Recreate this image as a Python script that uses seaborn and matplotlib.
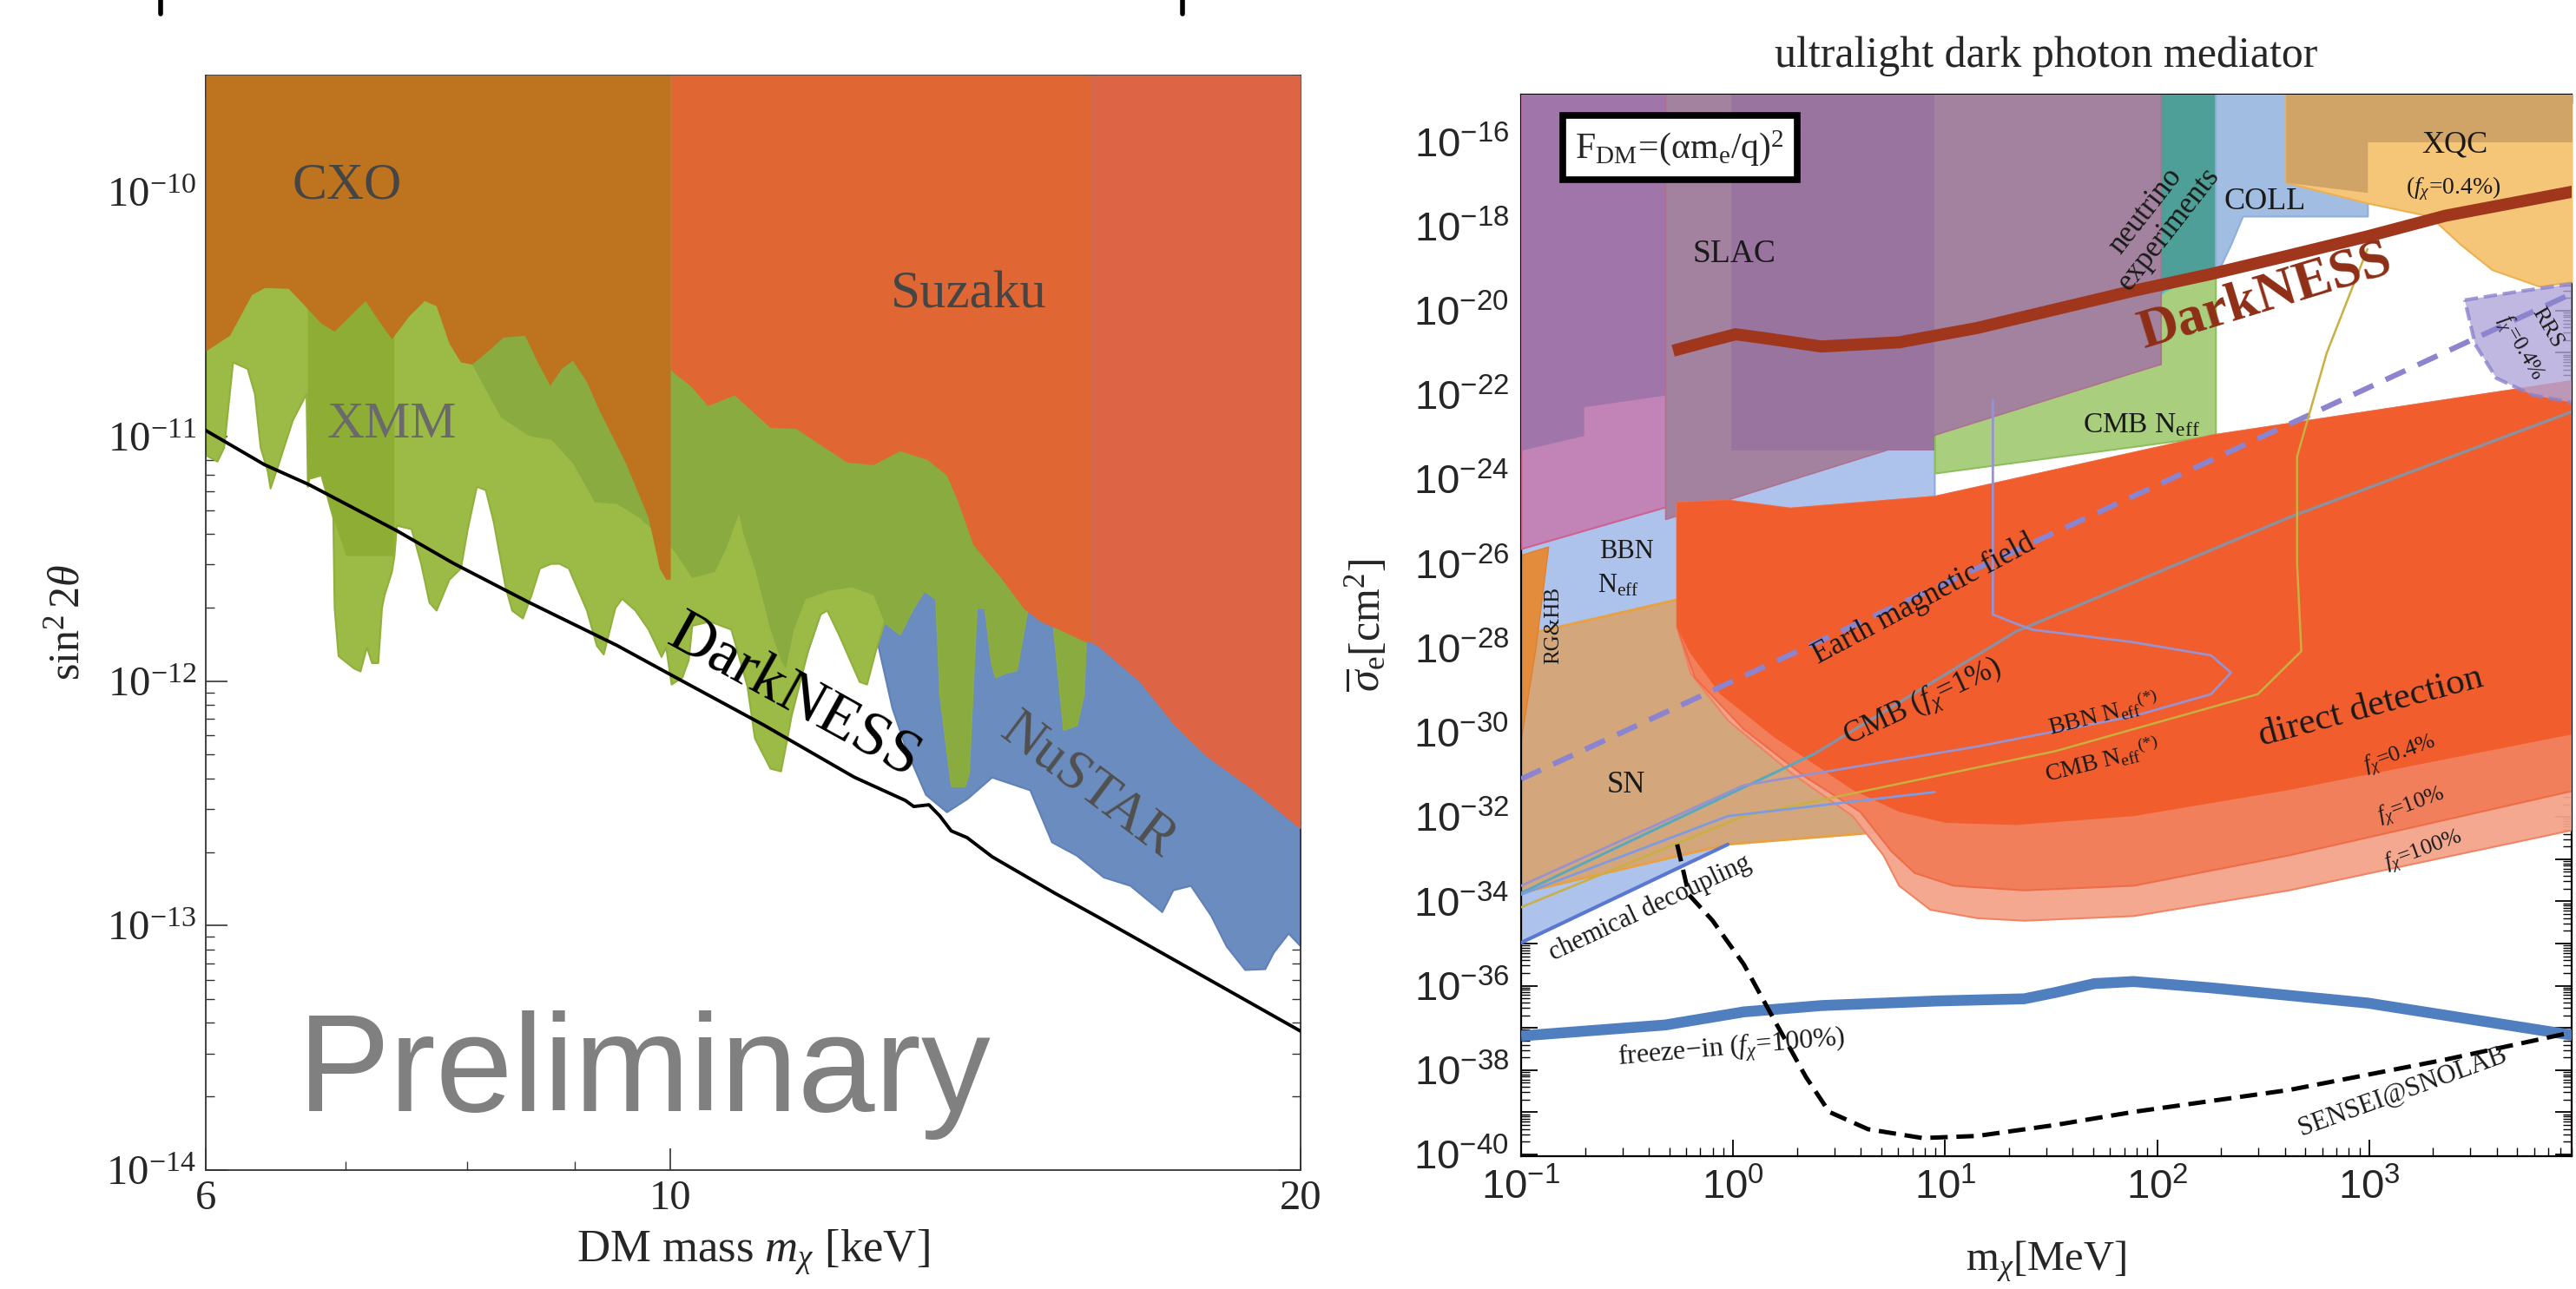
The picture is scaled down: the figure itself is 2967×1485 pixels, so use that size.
import numpy as np
import matplotlib
matplotlib.use("Agg")
import matplotlib.pyplot as plt
import seaborn as sns
from matplotlib.ticker import FixedLocator, FuncFormatter, NullFormatter
from matplotlib.lines import Line2D

# ======================= LEFT PANEL DATA (keV, sin^2 2theta) =======================
cxo_mass = [6.00, 6.16, 6.31, 6.40, 6.57, 6.68, 6.81, 6.91, 7.06, 7.15, 7.25, 7.36, 7.50, 7.63, 7.73,
            7.84, 7.94, 8.04, 8.16, 8.32, 8.52, 8.64, 8.76, 8.87, 8.98, 9.12, 9.24, 9.52, 9.76, 9.88, 9.95, 10.0]
cxo_lower = [2.24e-11, 2.60e-11, 3.81e-11, 4.07e-11, 4.04e-11, 3.48e-11, 2.91e-11, 2.70e-11, 3.24e-11, 3.60e-11,
             3.01e-11, 2.51e-11, 3.11e-11, 3.60e-11, 3.43e-11, 2.41e-11, 2.02e-11, 1.98e-11, 2.20e-11, 2.55e-11,
             2.60e-11, 2.02e-11, 1.62e-11, 1.90e-11, 2.05e-11, 1.68e-11, 1.30e-11, 7.81e-12, 4.67e-12, 2.90e-12,
             2.61e-12, 2.61e-12]

suzaku_mass = [10.0, 10.05, 10.22, 10.42, 10.73, 11.16, 11.48, 12.14, 12.50, 12.87, 13.26, 13.55, 13.72, 13.95,
               14.19, 14.36, 14.75, 15.03, 15.33, 15.78, 15.90]
suzaku_lower = [1.89e-11, 1.81e-11, 1.62e-11, 1.34e-11, 1.48e-11, 1.09e-11, 1.08e-11, 7.87e-12, 7.68e-12, 8.75e-12,
                8.07e-12, 6.97e-12, 5.41e-12, 3.62e-12, 3.03e-12, 2.70e-12, 1.98e-12, 1.75e-12, 1.63e-12, 1.45e-12,
                1.44e-12]

suzaku_hi_mass = [15.90, 16.02, 16.75, 17.40, 18.01, 18.97, 20.0]
suzaku_hi_lower = [1.44e-12, 1.38e-12, 9.96e-13, 6.62e-13, 4.97e-13, 3.59e-13, 2.48e-13]

xmm_mass = [6.00, 6.075, 6.12, 6.18, 6.28, 6.33, 6.37, 6.42, 6.44, 6.49, 6.60, 6.70, 6.71, 6.72, 6.81, 6.90,
            6.91, 6.94, 7.06, 7.11, 7.16, 7.20, 7.25, 7.28, 7.30, 7.36, 7.38, 7.40, 7.52, 7.60, 7.67, 7.73,
            7.84, 7.94, 8.00, 8.08, 8.16, 8.23, 8.34, 8.40, 8.50, 8.58, 8.66, 8.77, 8.85, 8.94, 9.12, 9.22,
            9.29, 9.41, 9.48, 9.62, 9.76, 9.90, 9.95, 10.01, 10.13, 10.20, 10.24, 10.44, 10.69, 10.88, 10.97,
            11.16, 11.29, 11.37, 11.42, 11.63, 11.79, 11.88, 12.03, 12.31, 12.41, 12.53, 12.65, 12.87, 13.06,
            13.22, 13.39, 13.45, 13.62, 13.82, 13.88, 14.00, 14.13, 14.24, 14.30, 14.43, 14.63, 14.81, 15.23,
            15.41, 15.63, 15.75, 15.81]
xmm_lower = [8.41e-12, 7.94e-12, 9.05e-12, 2.02e-11, 1.90e-11, 1.50e-11, 9.05e-12, 7.26e-12, 6.16e-12, 7.50e-12,
             1.17e-11, 1.50e-11, 6.26e-12, 6.74e-12, 6.97e-12, 4.67e-12, 2.00e-12, 1.27e-12, 1.13e-12, 1.10e-12,
             1.38e-12, 1.19e-12, 1.19e-12, 2.00e-12, 2.25e-12, 2.81e-12, 3.26e-12, 4.34e-12, 4.20e-12, 3.03e-12,
             2.10e-12, 1.95e-12, 2.61e-12, 2.90e-12, 4.20e-12, 6.26e-12, 6.06e-12, 4.52e-12, 2.43e-12, 1.95e-12,
             1.81e-12, 2.25e-12, 2.90e-12, 3.03e-12, 3.03e-12, 2.90e-12, 1.95e-12, 1.40e-12, 1.29e-12, 2.00e-12,
             2.18e-12, 1.95e-12, 1.63e-12, 1.26e-12, 1.38e-12, 9.72e-13, 1.04e-12, 1.22e-12, 1.69e-12, 1.76e-12,
             1.63e-12, 9.56e-13, 5.85e-13, 4.40e-13, 4.29e-13, 5.85e-13, 7.18e-13, 1.33e-12, 1.88e-12, 1.95e-12,
             1.56e-12, 9.96e-13, 9.72e-13, 1.33e-12, 1.75e-12, 1.56e-12, 2.00e-12, 2.35e-12, 2.17e-12, 8.81e-13,
             3.73e-13, 3.73e-13, 4.22e-13, 2.00e-12, 2.00e-12, 1.17e-12, 1.04e-12, 1.08e-12, 1.11e-12, 2.00e-12,
             1.76e-12, 6.35e-13, 6.62e-13, 8.81e-13, 2.00e-12]

xmm_band_mass = [6.71, 6.72, 6.81, 6.90, 7.00, 7.38]
xmm_band_lower = [6.26e-12, 6.74e-12, 6.97e-12, 4.67e-12, 3.26e-12, 3.26e-12]

xmm2_mass = [8.04, 8.16, 8.30, 8.56, 8.77, 8.98, 9.20, 9.43, 9.66, 9.95, 10.05, 10.24, 10.50, 10.63, 10.78,
             10.83, 10.97, 11.16, 11.29, 11.35, 11.45, 11.60, 11.90, 12.20, 12.50, 12.65, 12.87, 13.06, 13.22,
             13.39, 13.45, 13.62, 13.82, 13.88, 14.00, 14.13, 14.24, 14.30, 14.43, 14.63, 14.81, 15.23, 15.41,
             15.63, 15.75, 15.81]
xmm2_lower = [1.98e-11, 1.56e-11, 1.20e-11, 1.01e-11, 9.74e-12, 7.81e-12, 5.41e-12, 5.32e-12, 4.67e-12, 3.74e-12,
              3.37e-12, 2.65e-12, 2.81e-12, 3.51e-12, 4.86e-12, 4.03e-12, 2.90e-12, 1.63e-12, 1.22e-12, 1.13e-12,
              1.63e-12, 2.17e-12, 2.35e-12, 2.43e-12, 2.25e-12, 1.75e-12, 1.56e-12, 2.00e-12, 2.35e-12, 2.17e-12,
              8.81e-13, 3.73e-13, 3.73e-13, 4.22e-13, 2.00e-12, 2.00e-12, 1.17e-12, 1.04e-12, 1.08e-12, 1.11e-12,
              2.00e-12, 1.76e-12, 6.35e-13, 6.62e-13, 8.81e-13, 2.00e-12]

nustar_mass = [11.55, 11.63, 11.79, 11.88, 12.41, 12.57, 12.76, 12.97, 13.24, 13.55, 13.86, 14.24, 14.85, 15.21,
               15.63, 16.10, 16.58, 17.17, 17.38, 17.72, 18.12, 18.43, 18.81, 19.23, 19.41, 19.73, 20.0]
nustar_lower = [1.10e-12, 1.33e-12, 1.88e-12, 2.00e-12, 2.00e-12, 1.38e-12, 7.79e-13, 5.18e-13, 3.44e-13, 2.92e-13,
                3.31e-13, 4.05e-13, 3.59e-13, 2.20e-13, 1.94e-13, 1.58e-13, 1.46e-13, 1.14e-13, 1.40e-13, 1.46e-13,
                1.10e-13, 8.24e-14, 6.61e-14, 6.66e-14, 7.78e-14, 9.31e-14, 8.24e-14]

darkness_mass = [6.00, 6.40, 6.72, 7.40, 7.88, 8.56, 9.43, 10.05, 11.08, 12.24, 12.95, 13.07, 13.29, 13.45,
                 13.62, 13.86, 14.25, 15.28, 16.02, 16.86, 20.0]
darkness_sin2 = [1.06e-11, 7.68e-12, 6.37e-12, 4.13e-12, 3.03e-12, 2.10e-12, 1.40e-12, 1.04e-12, 6.62e-13,
                 4.05e-13, 3.25e-13, 3.07e-13, 3.12e-13, 2.81e-13, 2.44e-13, 2.29e-13, 1.91e-13, 1.35e-13,
                 1.08e-13, 8.44e-14, 3.70e-14]

left_xticks = [6, 10, 20]
left_xminor = [7, 8, 9]

# ======================= RIGHT PANEL DATA (log10 MeV, log10 cm^2) =======================
pink_logm = [-1.0, 2.016]
pink_logs = [-25.64, -21.26]
purple_logm = [-1.0, -0.705, -0.705, -0.32]
purple_logs = [-23.31, -22.96, -22.28, -22.0]
slac_logm = [-0.32, 2.016]
slac_logs = [-24.94, -21.26]
slacdark_logm = [-0.008, 0.951]
slacdark_logs = [-23.31, -23.31]
nu_logm = [1.225, 1.41, 1.704, 1.889, 2.035, 2.293]
nu_logs = [-22.13, -21.99, -20.80, -20.12, -19.53, -18.93]
coll_logm = [2.275, 2.35, 2.403, 2.992]
coll_logs = [-19.2, -18.4, -17.76, -17.76]
xqc_logm = [2.607, 2.992, 3.286, 3.433, 3.58, 3.801, 3.98]
xqc_logs = [-16.96, -17.45, -17.76, -18.44, -19.03, -19.42, -19.3]
xqc100_logm = [2.607, 2.992, 2.992, 3.98]
xqc100_logs = [-16.96, -17.2, -16.0, -16.0]
cmb_logm = [0.951, 2.275]
cmb_logs = [-23.85, -22.96]
bbn_logm = [-1.0, 0.951, 0.951, 0.3, -0.025, -1.0]
bbn_logs = [-25.6, -22.9, -24.6, -28.0, -32.65, -34.98]
sn_logm = [-1.0, -0.264, 0.7, 0.7, 0.6, -0.025, -1.0]
sn_logs = [-27.7, -26.85, -26.0, -32.35, -32.4, -32.65, -33.8]
rghb_logm = [-1.0, -0.87, -0.93, -1.0]
rghb_logs = [-25.8, -25.6, -28.0, -30.2]
dd_top_logm = [-0.264, -0.025, 0.27, 0.951, 2.256, 3.98]
dd_top_logs = [-24.55, -24.50, -24.69, -24.41, -22.96, -21.65]
dd100_logm = [-0.264, -0.2, -0.025, 0.27, 0.564, 0.709, 0.783, 0.93, 1.152, 1.373, 1.889, 2.623, 3.98]
dd100_logs = [-27.5, -28.6, -29.71, -30.94, -31.98, -32.91, -33.63, -34.2, -34.40, -34.46, -34.35, -33.74, -32.29]
dd10_logm = [-0.264, -0.18, 0.05, 0.34, 0.6, 0.746, 0.857, 1.04, 1.373, 1.889, 2.623, 3.98]
dd10_logs = [-27.5, -28.7, -29.92, -31.05, -31.88, -32.81, -33.33, -33.63, -33.74, -33.63, -32.91, -31.36]
dd04_logm = [-0.264, -0.209, -0.061, 0.196, 0.564, 0.783, 1.004, 1.336, 1.889, 2.623, 3.98]
dd04_logs = [-27.5, -28.07, -29.09, -30.12, -31.36, -31.88, -32.14, -32.19, -31.98, -31.36, -30.02]
rrs_logm = [3.451, 3.7, 3.98, 3.98, 3.77, 3.6, 3.5]
rrs_logs = [-19.75, -19.55, -19.35, -22.2, -22.0, -21.6, -20.8]

earth_logm = [-1.0, 3.955]
earth_logs = [-31.1, -19.6]
cmb1_cyan_logm = [-1.0, 0.385]
cmb1_cyan_logs = [-33.8, -30.5]
cmb1_gray_logm = [0.385, 1.336, 2.623, 3.98]
cmb1_gray_logs = [-30.5, -27.6, -24.9, -22.35]
cmbstar_logm = [2.992, 2.8, 2.66, 2.66, 2.68, 2.475, 1.52, 0.05, -1.0]
cmbstar_logs = [-18.54, -21.0, -23.46, -26.0, -28.07, -29.09, -30.44, -31.98, -34.14]
bbnstar_logm = [1.225, 1.225, 1.299, 1.41, 1.889, 2.254, 2.348, 2.254, 1.889, 1.152, 0.05, -1.0]
bbnstar_logs = [-22.13, -27.2, -27.35, -27.56, -27.86, -28.17, -28.58, -29.09, -29.61, -30.33, -31.25, -33.63]
blue2_logm = [0.951, -0.025, -1.0]
blue2_logs = [-31.41, -31.98, -33.84]
chem_logm = [-1.0, -0.025]
chem_logs = [-34.98, -32.65]
freeze_logm = [-1.0, -0.32, 0.05, 0.417, 0.967, 1.373, 1.52, 1.704, 1.889, 2.254, 2.992, 3.98]
freeze_logs = [-37.19, -36.93, -36.62, -36.47, -36.36, -36.31, -36.16, -35.95, -35.90, -36.05, -36.41, -37.19]
sensei_logm = [-0.264, -0.209, -0.098, 0.05, 0.196, 0.343, 0.453, 0.636, 0.893, 1.152, 1.52, 1.889, 2.623, 3.36, 3.98]
sensei_logs = [-32.65, -33.84, -34.45, -35.49, -36.83, -38.16, -38.99, -39.40, -39.61, -39.56, -39.30, -38.99,
               -38.47, -37.75, -37.08]
dkr_logm = [-0.283, -0.135, 0.012, 0.159, 0.416, 0.784, 1.152, 1.52, 1.888, 2.256, 2.624, 2.992, 3.36, 3.98]
dkr_logs = [-20.95, -20.75, -20.56, -20.66, -20.85, -20.75, -20.41, -19.97, -19.53, -19.13, -18.69, -18.24,
            -17.75, -17.16]

right_xticks_exp = [-1, 0, 1, 2, 3]
right_yticks_exp = list(range(-40, -14))

# ======================= STYLE =======================
sns.set_theme(style="ticks")
plt.rcParams["font.family"] = ["Liberation Serif", "DejaVu Serif"]
plt.rcParams["mathtext.fontset"] = "custom"
plt.rcParams["mathtext.rm"] = "Liberation Serif"
plt.rcParams["mathtext.it"] = "Liberation Serif:italic"
plt.rcParams["mathtext.bf"] = "Liberation Serif:bold"
plt.rcParams["mathtext.sf"] = "Liberation Sans"

fig = plt.figure(figsize=(29.67, 14.85), dpi=100)
fig.patch.set_facecolor("white")
axL = fig.add_axes([237 / 2967, 1 - 1348 / 1485, (1498 - 237) / 2967, (1348 - 87) / 1485])
axR = fig.add_axes([1752 / 2967, 1 - 1332 / 1485, (2962 - 1752) / 2967, (1332 - 109) / 1485])

# ======================= LEFT PANEL =======================
axL.set_xscale("log")
axL.set_yscale("log")
TOPL = 1e-9
axL.fill_between(nustar_mass, nustar_lower, TOPL, facecolor="#6B8CBE", edgecolor="#5F80B8", lw=1.5, zorder=1)
axL.fill_between(xmm_mass, xmm_lower, TOPL, facecolor="#9CBB46", edgecolor="#90B03C", lw=1.5, zorder=2)
axL.fill_between(xmm_band_mass, xmm_band_lower, TOPL, facecolor="#8DAD35", lw=0, zorder=3)
axL.fill_between(xmm2_mass, xmm2_lower, TOPL, facecolor="#8AAB40", lw=0, zorder=3)
axL.fill_between(cxo_mass, cxo_lower, TOPL, facecolor="#BE731F", lw=0, zorder=4)
axL.fill_between(suzaku_mass, suzaku_lower, TOPL, facecolor="#E06733", lw=0, zorder=4)
axL.fill_between(suzaku_hi_mass, suzaku_hi_lower, TOPL, facecolor="#DD6546", lw=0, zorder=4)
sns.lineplot(x=darkness_mass, y=darkness_sin2, ax=axL, color="black", lw=2.8, sort=False,
             estimator=None, zorder=6)
axL.set_xlim(6, 20)
axL.set_ylim(1e-14, 3e-10)

axL.xaxis.set_major_locator(FixedLocator(left_xticks))
axL.xaxis.set_minor_locator(FixedLocator(left_xminor))
axL.xaxis.set_major_formatter(FuncFormatter(lambda v, p: "%d" % round(v)))
axL.xaxis.set_minor_formatter(NullFormatter())
axL.yaxis.set_major_locator(FixedLocator([1e-14, 1e-13, 1e-12, 1e-11, 1e-10]))
axL.yaxis.set_minor_locator(FixedLocator([m * 10.0 ** e for e in range(-14, -9) for m in range(2, 10)]))
axL.yaxis.set_major_formatter(FuncFormatter(lambda v, p: r"$10^{%d}$" % round(np.log10(v))))
axL.yaxis.set_minor_formatter(NullFormatter())
axL.tick_params(which="both", direction="in", top=True, right=True, color="#333333")
axL.tick_params(which="major", length=18, width=1.2, labelsize=35, pad=8)
axL.tick_params(which="minor", length=7.5, width=1.0)
for s in axL.spines.values():
    s.set_color("#333333")
    s.set_linewidth(1.3)
axL.set_xlabel(r"DM mass $m_\chi$ [keV]", fontsize=38)
axL.xaxis.set_label_coords(0.5, -0.053)
axL.set_ylabel(r"$\sin^2 2\theta$", fontsize=36)
axL.yaxis.set_label_coords(-0.107, 0.5)

axL.text(7.01, 1.06e-10, "CXO", fontsize=43, color="#454545", ha="center", va="center", zorder=7)
axL.text(7.36, 1.11e-11, "XMM", fontsize=43, color="#6A6A6A", ha="center", va="center", zorder=7)
axL.text(13.88, 3.81e-11, "Suzaku", fontsize=44, color="#454545", ha="center", va="center", zorder=7)
axL.text(11.46, 8.6e-13, "DarkNESS", fontsize=52, color="black", ha="center", va="center",
         rotation=-29, rotation_mode="anchor", zorder=7)
axL.text(15.83, 3.71e-13, "NuSTAR", fontsize=46, color="#505050", ha="center", va="center",
         rotation=-37, rotation_mode="anchor", zorder=7)
axL.text(0.401, 0.054, "Preliminary", transform=axL.transAxes, fontsize=115, color="#808080",
         family=["Liberation Sans", "DejaVu Sans"], ha="center", va="baseline", zorder=7)

# ======================= RIGHT PANEL =======================
def P(a):
    return 10.0 ** np.asarray(a, dtype=float)

axR.set_xscale("log")
axR.set_yscale("log")
TOPR = 1e-13
axR.fill(P(bbn_logm), P(bbn_logs), facecolor="#AEC3EC", edgecolor="#8FA9E0", lw=1.5, zorder=1)
axR.fill(P(sn_logm), P(sn_logs), facecolor="#D3A77B", edgecolor="#E9A040", lw=2, zorder=2)
axR.fill(P(rghb_logm), P(rghb_logs), facecolor="#E38D3C", edgecolor="#E08030", lw=1, zorder=2)
axR.fill_between(P(cmb_logm), P(cmb_logs), TOPR, facecolor="#A8CE7E", edgecolor="#8DBF5E", lw=1.5, zorder=2)
axR.fill_between(P(nu_logm), P(nu_logs), TOPR, facecolor="#4E9F97", edgecolor="#5BC0D0", lw=1.5, zorder=3)
axR.fill_between(P(coll_logm), P(coll_logs), TOPR, facecolor="#A1BEE2", edgecolor="#8FB0DA", lw=1.5, zorder=3)
axR.fill_between(P(xqc_logm), P(xqc_logs), TOPR, facecolor="#F6C678", edgecolor="#EDB050", lw=1.5, zorder=3)
axR.fill_between(P(xqc100_logm), P(xqc100_logs), TOPR, facecolor="#D0A466", lw=0, zorder=3)
axR.fill_between(P(pink_logm), P(pink_logs), TOPR, facecolor="#C283B7", edgecolor="#D06090", lw=1.5, zorder=4)
axR.fill_between(P(purple_logm), P(purple_logs), TOPR, facecolor="#A075A9", lw=0, zorder=5)
axR.fill_between(P(slac_logm), P(slac_logs), TOPR, facecolor="#A2829F", edgecolor="#B07090", lw=1.2, zorder=5)
axR.fill_between(P(slacdark_logm), P(slacdark_logs), TOPR, facecolor="#98749F", lw=0, zorder=5)

dd100_x = P(dd_top_logm + dd100_logm[::-1])
dd100_y = P(dd_top_logs + dd100_logs[::-1])
dd10_x = P(dd_top_logm + dd10_logm[::-1])
dd10_y = P(dd_top_logs + dd10_logs[::-1])
dd04_x = P(dd_top_logm + dd04_logm[::-1])
dd04_y = P(dd_top_logs + dd04_logs[::-1])
axR.fill(dd100_x, dd100_y, facecolor="#F5A38A", edgecolor="#F08060", lw=1.5, alpha=0.95, zorder=6)
axR.fill(dd10_x, dd10_y, facecolor="#F27D58", edgecolor="#EE6A45", lw=1.5, alpha=0.95, zorder=6)
axR.fill(dd04_x, dd04_y, facecolor="#F15C2B", lw=0, alpha=0.95, zorder=6)
axR.fill(P(rrs_logm), P(rrs_logs), facecolor="#B2A6DB", edgecolor="#8C82CC", lw=3, ls="--", alpha=0.8, zorder=7)

line_kw = dict(ax=axR, sort=False, estimator=None)
sns.lineplot(x=P(earth_logm), y=P(earth_logs), color="#8C84CE", lw=4.5, linestyle=(0, (4, 2.5)), zorder=8, **line_kw)
sns.lineplot(x=P(cmb1_cyan_logm), y=P(cmb1_cyan_logs), color="#5AA8BE", lw=2.2, zorder=8, **line_kw)
sns.lineplot(x=P(cmb1_gray_logm), y=P(cmb1_gray_logs), color="#8E909E", lw=2.5, zorder=8, **line_kw)
sns.lineplot(x=P(cmbstar_logm), y=P(cmbstar_logs), color="#C9B040", lw=1.8, zorder=8, **line_kw)
sns.lineplot(x=P(bbnstar_logm), y=P(bbnstar_logs), color="#9A92CF", lw=2.0, zorder=8, **line_kw)
sns.lineplot(x=P(blue2_logm), y=P(blue2_logs), color="#7F9BE0", lw=2.0, zorder=8, **line_kw)
sns.lineplot(x=P(chem_logm), y=P(chem_logs), color="#5A78D2", lw=3.0, zorder=8, **line_kw)
sns.lineplot(x=P(freeze_logm), y=P(freeze_logs), color="#4F7FBF", lw=9, solid_capstyle="butt",
             solid_joinstyle="round", zorder=8, **line_kw)
sns.lineplot(x=P(sensei_logm), y=P(sensei_logs), color="black", lw=3.6, linestyle=(0, (4, 2)), zorder=8, **line_kw)
sns.lineplot(x=P(dkr_logm), y=P(dkr_logs), color="#A0361C", lw=10, solid_capstyle="butt",
             solid_joinstyle="round", zorder=9, **line_kw)

axR.set_xlim(0.1, 10 ** 3.955)
axR.set_ylim(10 ** -40.04, 10 ** -14.88)

axR.xaxis.set_major_locator(FixedLocator(P(right_xticks_exp)))
axR.xaxis.set_minor_locator(FixedLocator([m * 10.0 ** e for e in range(-1, 4) for m in range(2, 10)]))
axR.xaxis.set_major_formatter(FuncFormatter(lambda v, p: r"$\mathsf{10^{%d}}$" % round(np.log10(v))))
axR.xaxis.set_minor_formatter(NullFormatter())
axR.yaxis.set_major_locator(FixedLocator(P(right_yticks_exp)))
axR.yaxis.set_minor_locator(FixedLocator([m * 10.0 ** e for e in range(-41, -14) for m in range(2, 10)]))


def yfmt(v, p):
    e = int(round(np.log10(v)))
    return r"$\mathsf{10^{%d}}$" % e if e % 2 == 0 else ""


axR.yaxis.set_major_formatter(FuncFormatter(yfmt))
axR.yaxis.set_minor_formatter(NullFormatter())
axR.tick_params(which="both", direction="in", top=True, right=True, color="black")
axR.tick_params(which="major", length=14, width=1.3, labelsize=34, pad=10)
axR.tick_params(which="minor", length=7, width=1.0)
for s in axR.spines.values():
    s.set_color("black")
    s.set_linewidth(1.6)

axR.set_xlabel(r"$\mathrm{m}_{\chi}[\mathrm{MeV}]$", fontsize=35)
axR.xaxis.set_label_coords(0.5, -0.078)
axR.set_ylabel(r"$\overline{\sigma}_{\mathrm{e}}[\mathrm{cm}^2]$", fontsize=36)
axR.yaxis.set_label_coords(-0.125, 0.5)
axR.text(0.5, 1.036, "ultralight dark photon mediator", transform=axR.transAxes, fontsize=36,
         ha="center", va="center")

axR.text(0.151, 0.950, r"$\mathrm{F_{DM}\!=\!(\alpha m_e/q)^2}$", transform=axR.transAxes, fontsize=30,
         ha="center", va="center", zorder=12,
         bbox=dict(boxstyle="square,pad=0.35", facecolor="white", edgecolor="black", lw=5.5))


def T(lm, ls, s, size=24, rot=0, color="#1a1a1a", **kw):
    axR.text(10 ** lm, 10 ** ls, s, fontsize=size, rotation=rot, rotation_mode="anchor",
             ha="center", va="center", color=color, zorder=11, **kw)


T(0.004, -18.65, "SLAC", 27)
T(2.0, -17.85, "neutrino\nexperiments", 25, 52, linespacing=1.0)
T(2.506, -17.43, "COLL", 26)
T(3.404, -16.08, "XQC", 26)
T(3.397, -17.11, r"($f_\chi$=0.4%)", 20)
T(1.924, -22.72, r"CMB N$_{\mathrm{eff}}$", 24)
T(-0.504, -25.72, "BBN", 22)
T(-0.541, -26.51, r"N$_{\mathrm{eff}}$", 22)
T(-0.848, -27.45, "RG&HB", 18, 90)
T(0.9, -26.85, "Earth magnetic field", 25, 28)
T(0.893, -29.30, r"CMB ($f_\chi$=1%)", 25, 25)
T(1.748, -29.54, r"BBN N$_{\mathrm{eff}}$$^{(*)}$", 20, 14)
T(1.741, -30.64, r"CMB N$_{\mathrm{eff}}$$^{(*)}$", 20, 14)
T(3.01, -29.4, "direct detection", 31, 15)
T(3.146, -30.53, r"$f_\chi$=0.4%", 19, 20)
T(3.2, -31.75, r"$f_\chi$=10%", 19, 20)
T(3.257, -32.81, r"$f_\chi$=100%", 19, 20)
T(-0.504, -31.25, "SN", 25)
T(-0.393, -34.15, "chemical decoupling", 22, 25)
T(-0.008, -37.49, r"freeze$-$in ($f_\chi$=100%)", 23, 5)
T(3.156, -38.52, "SENSEI@SNOLAB", 22, 20)
T(3.84, -20.41, "RRS", 19, -60)
T(3.71, -20.9, r"$f_\chi$=0.4%", 18, -60)
T(2.512, -19.67, "DarkNESS", 46, 17, color="#8E2E16", fontweight="bold")

# small cropped glyph fragments at the very top edge of the slide
fig.add_artist(Line2D([185 / 2967, 185 / 2967], [1.0, 1 - 16 / 1485], color="black", lw=4))
fig.add_artist(Line2D([1362 / 2967, 1362 / 2967], [1.0, 1 - 16 / 1485], color="black", lw=4))

fig.savefig("out.png", dpi=100, facecolor="white")
